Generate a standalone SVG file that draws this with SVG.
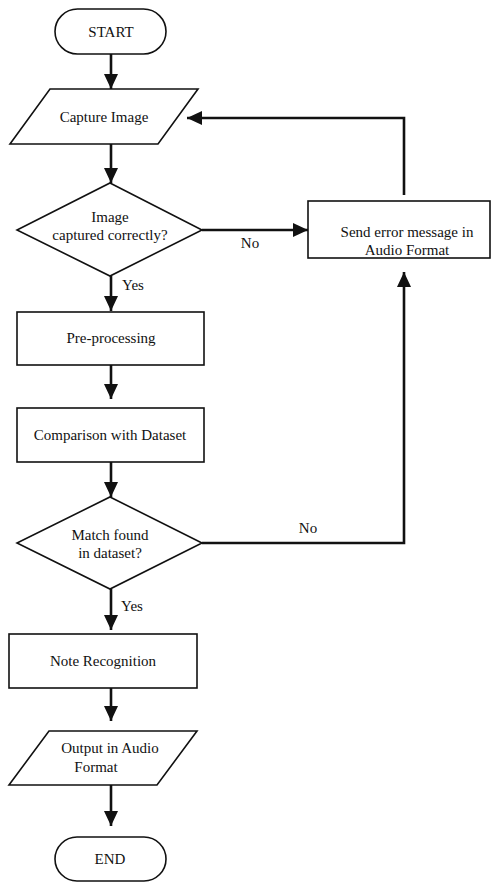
<svg xmlns="http://www.w3.org/2000/svg" width="492" height="882" viewBox="0 0 492 882">
<style>
.s{fill:#fff;stroke:#111;stroke-width:1.6}
.t{font-family:"Liberation Serif","Times New Roman",serif;font-size:15px;fill:#111;text-anchor:middle}
.c{fill:none;stroke:#111;stroke-width:2.6}
</style>
<defs>
<marker id="ah" markerUnits="userSpaceOnUse" markerWidth="16" markerHeight="14" refX="15" refY="7" orient="auto">
<path d="M0,0 L15,7 L0,14 Z" fill="#111"/>
</marker>
</defs>
<rect width="492" height="882" fill="#fff"/>
<g id="connectors">
<line class="c" x1="111" y1="54" x2="111" y2="89" marker-end="url(#ah)"/>
<line class="c" x1="111" y1="144" x2="111" y2="183" marker-end="url(#ah)"/>
<line class="c" x1="202" y1="230" x2="308" y2="230" marker-end="url(#ah)"/>
<polyline class="c" points="404,195 404,118 187,118" marker-end="url(#ah)"/>
<line class="c" x1="111" y1="276" x2="111" y2="311" marker-end="url(#ah)"/>
<line class="c" x1="111" y1="365" x2="111" y2="399" marker-end="url(#ah)"/>
<line class="c" x1="111" y1="462" x2="111" y2="497" marker-end="url(#ah)"/>
<polyline class="c" points="202,543 404,543 404,272" marker-end="url(#ah)"/>
<line class="c" x1="111" y1="589" x2="111" y2="630" marker-end="url(#ah)"/>
<line class="c" x1="111" y1="688" x2="111" y2="721" marker-end="url(#ah)"/>
<line class="c" x1="111" y1="785" x2="111" y2="826" marker-end="url(#ah)"/>
<text class="t" x="250" y="248">No</text>
<text class="t" x="133" y="290">Yes</text>
<text class="t" x="308" y="533">No</text>
<text class="t" x="132" y="611">Yes</text>
</g>
<g id="start">
<rect class="s" x="55" y="9" width="111" height="45" rx="22.5"/>
<text class="t" x="111" y="37">START</text>
</g>
<g id="capture">
<polygon class="s" points="50,89 198,89 158,144 10,144"/>
<text class="t" x="104" y="122">Capture Image</text>
</g>
<g id="decision1">
<polygon class="s" points="110,183 202,230 110,276 17,230"/>
<text class="t" x="110" y="222">Image</text>
<text class="t" x="110" y="240">captured correctly?</text>
</g>
<g id="error">
<rect class="s" x="308" y="201" width="182" height="57"/>
<text class="t" x="407" y="237">Send error message in</text>
<text class="t" x="407" y="255">Audio Format</text>
</g>
<g id="preprocessing">
<rect class="s" x="17" y="312" width="187" height="53"/>
<text class="t" x="111" y="343">Pre-processing</text>
</g>
<g id="comparison">
<rect class="s" x="17" y="408" width="187" height="54"/>
<text class="t" x="110" y="440">Comparison with Dataset</text>
</g>
<g id="decision2">
<polygon class="s" points="110,497 202,543 110,589 17,543"/>
<text class="t" x="110" y="540">Match found</text>
<text class="t" x="110" y="558">in dataset?</text>
</g>
<g id="note">
<rect class="s" x="9" y="634" width="188" height="54"/>
<text class="t" x="103" y="666">Note Recognition</text>
</g>
<g id="output">
<polygon class="s" points="49,731 197,731 157,785 9,785"/>
<text class="t" x="110" y="753">Output in Audio</text>
<text class="t" x="96" y="772">Format</text>
</g>
<g id="end">
<rect class="s" x="55" y="837" width="111" height="44" rx="22"/>
<text class="t" x="110" y="864">END</text>
</g>
</svg>
